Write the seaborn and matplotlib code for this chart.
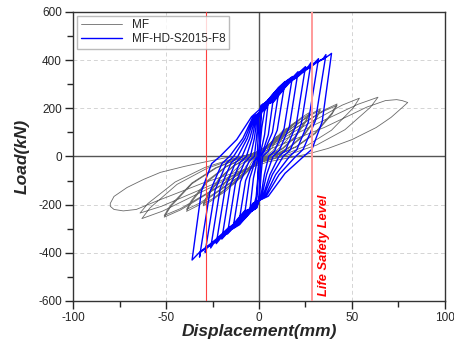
import matplotlib
matplotlib.use('Agg')
import pandas as pd
import matplotlib.pyplot as plt
import seaborn as sns

# MF specimen: displacement (mm) / load (kN), one row per cycle
mf_disp = [0,
    0.9, 3, 5.1, 6, 5.6, 4.25, 2.75, 1, 0, -2.5, -5, -6, -5.6, -4.25, -2.75, -1,
    0.6, 4.5, 8.3, 10, 9.4, 7.2, 4.8, 2, 0.2, -4, -8.2, -10, -9.3, -7, -4.5, -1.5,
    1, 6.8, 12.5, 15, 14, 10.8, 7.2, 3, 0.2, -6.5, -13.2, -16, -14.9, -11.3, -7.2, -2.5,
    1, 9.2, 17.5, 21, 19.6, 15, 10, 4, 0.1, -9, -18.1, -22, -20.5, -15.4, -9.6, -3,
    1.5, 12, 22.5, 27, 25.2, 19.3, 12.7, 5, -0.2, -12.5, -24.8, -30, -28, -21.1, -13.4, -4.5,
    0.2, 11.2, 22.3, 27, 25.3, 19.5, 13, 5.5, 0.2, -12.2, -24.7, -30, -28, -21.2, -13.7, -5,
    1.1, 14.2, 27.4, 33, 30.9, 23.9, 16.1, 7, 0.1, -16, -32.1, -39, -36.4, -27.4, -17.6, -6,
    -0.1, 13.5, 27.1, 33, 31, 24.1, 16.4, 7.5, 0.5, -15.7, -32, -39, -36.4, -27.6, -17.9, -6.5,
    1.2, 18, 34.8, 42, 39.3, 30.1, 19.9, 8, -0.8, -21.5, -42.2, -51, -47.6, -36, -23, -8,
    -0.5, 17, 34.5, 42, 39.3, 30.3, 20.2, 8.5, -0.4, -21.2, -42.1, -51, -47.6, -36.1, -23.4, -8.5,
    1.3, 23, 44.7, 54, 50.6, 39, 26, 11, -0.1, -26, -51.9, -63, -58.7, -44.1, -27.9, -9,
    2, 27.5, 53, 64, 59.9, 46.2, 30.9, 13, 1.5, -25.5, -52.5, -64, -59.7, -45.1, -28.9, -10,
    3, 35, 58, 68, 74, 77, 80, 77, 71, 63, 50, 37, 27, 20,
    5, -30, -55, -66, -73, -78, -80, -80, -78, -71, -62, -53, -40, -28, -17, -12]
mf_load = [0,
    6, 28, 48, 55, 46, 25, 10, 0, -6, -30, -53, -60, -50, -27, -11, 0,
    8, 42, 75, 85, 71, 38, 16, 0, -9, -45, -79, -90, -75, -40, -17, 0,
    12, 59, 104, 118, 98, 53, 22, 0, -12, -62, -110, -125, -104, -56, -24, 0,
    15, 75, 132, 150, 124, 68, 28, 0, -16, -82, -145, -165, -137, -74, -31, 0,
    18, 91, 160, 182, 151, 82, 35, 0, -20, -102, -180, -205, -170, -92, -39, 0,
    17, 87, 154, 175, 145, 79, 33, 0, -20, -99, -174, -198, -164, -89, -38, 0,
    20, 99, 174, 198, 164, 89, 38, 0, -23, -114, -201, -228, -189, -103, -43, 0,
    19, 96, 169, 192, 159, 86, 36, 0, -22, -110, -194, -220, -183, -99, -42, 0,
    22, 109, 192, 218, 181, 98, 41, 0, -25, -126, -222, -252, -209, -113, -48, 0,
    21, 106, 187, 212, 176, 95, 40, 0, -24, -122, -216, -245, -203, -110, -47, 0,
    24, 121, 213, 242, 201, 109, 46, 0, -26, -129, -227, -258, -214, -116, -49, 0,
    25, 123, 216, 246, 204, 111, 47, 0, -23, -118, -207, -235, -195, -106, -45, 0,
    22, 120, 205, 232, 236, 232, 224, 203, 162, 120, 70, 33, 12, 0,
    -22, -110, -185, -220, -226, -220, -207, -195, -166, -129, -95, -66, -41, -21, -4, 0]

# MF-HD-S2015-F8 specimen
hd_disp = [0, 1.5, 3, 5,
    3, 1, 0, -0.5, -1.5, -3, -5,
    -3, -1, 0, 0.5, 1, 2, 4, 8,
    5, 2, 0, -0.5, -1, -2, -4, -8,
    -5, -2, 0, 0.5, 1, 2, 4.2, 7.2, 11,
    7.2, 2.8, 1, 0.5, 0, -1, -4.2, -7.2, -11,
    -7.2, -2.8, -1, -0.5, 0, 1, 4.4, 7.4, 10.4, 14,
    9.8, 5, 2, 1.1, 0.3, -0.4, -2, -4.4, -7.4, -10.4, -14,
    -10, -5.4, -2.5, -1.4, -0.3, 0.7, 2.3, 5.3, 8.3, 11.3, 14.3, 18,
    13.5, 8.4, 5.2, 2.9, 1, -0.7, -2.3, -5.3, -8.3, -11.3, -14.3, -17,
    -12.7, -7.7, -4.6, -2.5, -0.9, 1, 2.6, 5.6, 8.6, 11.6, 14.6, 18.6, 21,
    16.3, 10.9, 7.5, 4.1, 1.5, -1, -2.6, -5.6, -8.6, -11.6, -14.6, -17.6, -20,
    -15.4, -10.1, -6.8, -3.7, -1.4, 1.4, 3, 6, 9, 12, 15, 19, 22, 25,
    20, 14.3, 10.7, 5.9, 2.1, -1.4, -3, -6, -9, -12, -15, -18, -21, -23,
    -18.1, -12.6, -9.1, -5, -1.8, 1.9, 3.5, 6.5, 9.5, 12.5, 15.5, 19.5, 22.5, 26.5, 28,
    22.8, 16.8, 13, 7.2, 2.6, -1.9, -3.5, -6.5, -9.5, -12.5, -15.5, -18.5, -21.5, -24.5, -26,
    -20.9, -15, -11.4, -6.3, -2.3, 2.4, 4, 7, 10, 13, 16, 20, 23, 27, 30, 32,
    26.5, 20.3, 16.4, 9, 3.3, -2.4, -4, -7, -10, -13, -16, -19, -22, -25, -28, -29,
    -23.6, -17.5, -13.7, -7.5, -2.7, 2.9, 4.5, 7.5, 10.5, 13.5, 16.5, 20.5, 23.5, 27.5, 30.5, 34.5, 36,
    30.3, 23.8, 19.7, 10.8, 3.9, -2.9, -4.5, -7.5, -10.5, -13.5, -16.5, -19.5, -22.5, -25.5, -28.5, -31.5, -32,
    -26.4, -19.9, -15.9, -8.7, -3.2, 3.4, 5, 8, 11, 14, 17, 21, 24, 28, 31, 35, 38, 39,
    34, 28.5, 24, 14, 5, -3.4, -5, -8, -11, -14, -17, -20, -23, -26, -29, -32, -34.5, -36,
    -31, -25.5, -21, -12, -4, 1]
hd_load = [0, 120, 190, 228,
    90, 20, 0, -75, -165, -215, -228,
    -90, -20, 0, 75, 165, 212, 228, 257,
    90, 18, 0, -75, -165, -212, -228, -255,
    -90, -18, 0, 75, 165, 212, 228, 257, 286,
    100, 20, 0, -75, -165, -212, -228, -255, -283,
    -100, -20, 0, 75, 165, 212, 228, 257, 286, 311,
    109, 22, 0, -75, -165, -195, -218, -228, -255, -283, -300,
    -105, -21, 0, 75, 165, 195, 218, 228, 257, 286, 311, 332,
    116, 23, 0, -75, -165, -195, -218, -228, -255, -283, -300, -322,
    -113, -23, 0, 75, 165, 195, 218, 228, 257, 286, 311, 332, 352,
    123, 25, 0, -75, -165, -195, -218, -228, -255, -283, -300, -322, -343,
    -120, -24, 0, 75, 165, 195, 218, 228, 257, 286, 311, 332, 352, 373,
    131, 26, 0, -75, -165, -195, -218, -228, -255, -283, -300, -322, -343, -362,
    -127, -25, 0, 75, 165, 195, 218, 228, 257, 286, 311, 332, 352, 373, 390,
    137, 27, 0, -75, -165, -195, -218, -228, -255, -283, -300, -322, -343, -362, -380,
    -133, -27, 0, 75, 165, 195, 218, 228, 257, 286, 311, 332, 352, 373, 390, 406,
    142, 28, 0, -75, -165, -195, -218, -228, -255, -283, -300, -322, -343, -362, -380, -398,
    -139, -28, 0, 75, 165, 195, 218, 228, 257, 286, 311, 332, 352, 373, 390, 406, 423,
    148, 30, 0, -75, -165, -195, -218, -228, -255, -283, -300, -322, -343, -362, -380, -398, -418,
    -146, -29, 0, 75, 165, 195, 218, 228, 257, 286, 311, 332, 352, 373, 390, 406, 422, 428,
    145, 30, 0, -70, -165, -195, -218, -228, -255, -283, -300, -322, -343, -362, -380, -398, -418, -430,
    -145, -30, 0, 70, 165, 200]

life_safety = 28.5

mf = pd.DataFrame({'disp': mf_disp, 'load': mf_load})
hd = pd.DataFrame({'disp': hd_disp, 'load': hd_load})

sns.set_style('ticks')
plt.rcParams['font.family'] = ['Liberation Sans', 'DejaVu Sans']
plt.rcParams['axes.unicode_minus'] = False

fig, ax = plt.subplots(figsize=(4.54, 3.42), dpi=100)
fig.subplots_adjust(left=0.161, right=0.98, top=0.965, bottom=0.12)

# grid + zero lines
for v in [-50, 50]:
    ax.axvline(v, color='#d4d4d4', lw=0.7, ls=(0, (4, 3)), zorder=0)
for h in [-400, -200, 200, 400]:
    ax.axhline(h, color='#d4d4d4', lw=0.7, ls=(0, (4, 3)), zorder=0)
ax.axhline(0, color='#555555', lw=1.0, zorder=0.5)
ax.axvline(0, color='#555555', lw=1.0, zorder=0.5)

sns.lineplot(data=mf, x='disp', y='load', sort=False, estimator=None,
             color='#6a6a6a', lw=0.6, label='MF', ax=ax)
sns.lineplot(data=hd, x='disp', y='load', sort=False, estimator=None,
             color='#0000ff', lw=1.0, label='MF-HD-S2015-F8', ax=ax)

# life safety level
ax.axvline(-life_safety, color='#ff4040', lw=0.8, zorder=3)
ax.axvline(life_safety, color='#ff9a9a', lw=1.4, zorder=3)
ax.text(35, -370, 'Life Safety Level', rotation=90, color='red',
        fontsize=9.3, fontweight='bold', fontstyle='italic',
        ha='center', va='center')

ax.set_xlim(-100, 100)
ax.set_ylim(-600, 600)
ax.set_xticks([-100, -50, 0, 50, 100])
ax.set_xticks([-75, -25, 25, 75], minor=True)
ax.set_yticks([-600, -400, -200, 0, 200, 400, 600])
ax.set_yticks([-500, -300, -100, 100, 300, 500], minor=True)
ax.tick_params(which='major', length=6, width=1, labelsize=8.5, direction='out', pad=2)
ax.tick_params(which='minor', length=4, width=1, direction='out')
for s in ax.spines.values():
    s.set_linewidth(1.0)
    s.set_color('#333333')

ax.set_xlabel('Displacement(mm)', fontsize=12.5, fontweight='bold', fontstyle='italic', labelpad=0)
ax.set_ylabel('Load(kN)', fontsize=12.5, fontweight='bold', fontstyle='italic', labelpad=6)

ax.legend(loc='upper left', fontsize=8.5, frameon=True, fancybox=False,
          edgecolor='#aaaaaa', handlelength=3.5, borderpad=0.3,
          labelspacing=0.15, borderaxespad=0.2, bbox_to_anchor=(0.005, 0.995))

plt.savefig('out.png', dpi=100)
